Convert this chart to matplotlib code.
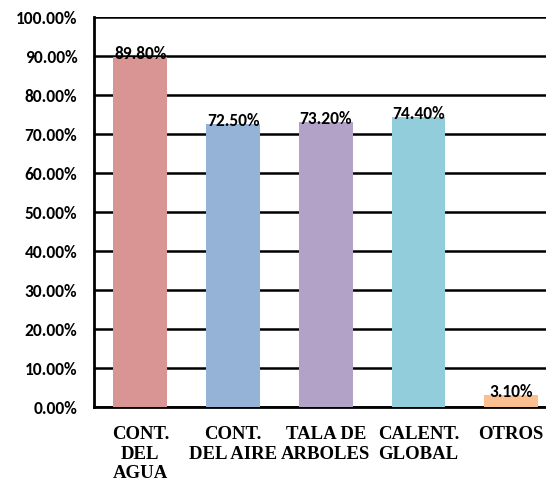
import matplotlib
matplotlib.use("Agg")
from matplotlib import pyplot as plt
from matplotlib.ticker import FuncFormatter

categories = ["CONT.\nDEL\nAGUA", "CONT.\nDEL AIRE", "TALA DE\nARBOLES", "CALENT.\nGLOBAL", "OTROS"]
values = [89.8, 72.5, 73.2, 74.4, 3.1]
colors = ["#D99594", "#95B3D7", "#B2A2C7", "#92CDDC", "#FAC090"]
yticks = [0, 10, 20, 30, 40, 50, 60, 70, 80, 90, 100]

fig = plt.figure(figsize=(5.46, 4.81), dpi=100)
# left axis at x~94px, 0% at y~408px, 100% at y~18px; right side is cut by the figure edge
ax = fig.add_axes([94 / 546, (481 - 408) / 481, 1 - 94 / 546, 390 / 481])

pos = list(range(len(values)))
ax.bar(pos, values, width=0.58, color=colors, zorder=3)
ax.set_xlim(-0.5, 4.376)
ax.set_ylim(0, 100)
ax.set_yticks(yticks)
ax.yaxis.set_major_formatter(FuncFormatter(lambda v, p: "%.2f%%" % v))
ax.grid(axis="y", color="black", linewidth=1.8, zorder=0)
ax.set_axisbelow(True)

for s in ["top", "right"]:
    ax.spines[s].set_visible(False)
ax.spines["left"].set_linewidth(2)
ax.spines["bottom"].set_linewidth(2)
ax.tick_params(axis="y", length=0, pad=12)
ax.tick_params(axis="x", length=0, pad=13)

for lab in ax.get_yticklabels():
    lab.set_fontfamily("Carlito")
    lab.set_fontweight("bold")
    lab.set_fontsize(12.5)

ax.set_xticks(pos)
ax.set_xticklabels(categories, fontfamily="Liberation Serif", fontweight="bold",
                   fontsize=13.5, linespacing=1.2, va="top")

for x, v in zip(pos, values):
    ax.annotate("%.2f%%" % v, (x, v), xytext=(0, -3), textcoords="offset points",
                ha="center", va="bottom", fontfamily="Carlito", fontweight="bold",
                fontsize=12.5, zorder=4)

fig.savefig("out.png", dpi=100)
